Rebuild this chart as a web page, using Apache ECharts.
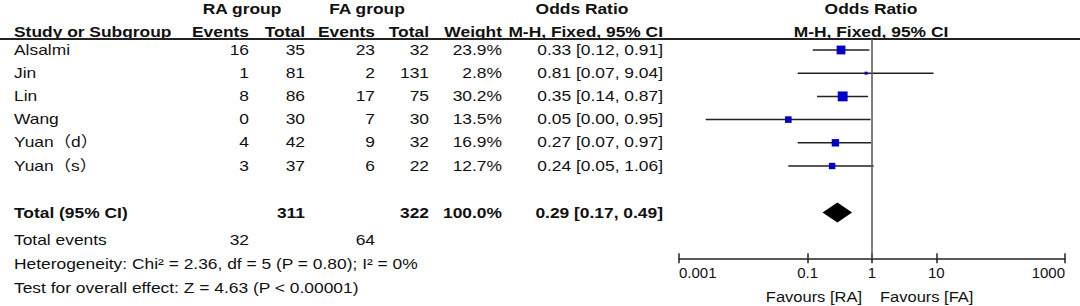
<!DOCTYPE html>
<html>
<head>
<meta charset="utf-8">
<script src="https://cdn.jsdelivr.net/npm/echarts@6/dist/echarts.min.js"></script>
<style>html,body{margin:0;padding:0;background:#fff}#c{width:1080px;height:306px}</style>
</head>
<body>
<div id="c"></div>
<script>
// ---- data ----
const studies = ['Alsalmi', 'Jin', 'Lin', 'Wang', 'Yuan（d）', 'Yuan（s）'];
const raEvents = [16, 1, 8, 0, 4, 3];
const raTotal = [35, 81, 86, 30, 42, 37];
const faEvents = [23, 2, 17, 7, 9, 6];
const faTotal = [32, 131, 75, 30, 32, 22];
const weights = [23.9, 2.8, 30.2, 13.5, 16.9, 12.7];
const oddsRatio = [0.33, 0.81, 0.35, 0.05, 0.27, 0.24];
const ciLow = [0.12, 0.07, 0.14, 0.0026, 0.07, 0.05];
const ciHigh = [0.91, 9.04, 0.87, 0.95, 0.97, 1.06];
const totalRA = 311, totalFA = 322, totalWeight = '100.0%';
const totalOR = 0.29, totalLow = 0.17, totalHigh = 0.49;
const totalEventsRA = 32, totalEventsFA = 64;
const heterogeneityText = 'Heterogeneity: Chi² = 2.36, df = 5 (P = 0.80); I² = 0%';
const overallText = 'Test for overall effect: Z = 4.63 (P < 0.00001)';
const xTickValues = [0.001, 0.1, 1, 10, 1000];
const xTickLabels = ['0.001', '0.1', '1', '10', '1000'];
const favoursLeft = 'Favours [RA]';
const favoursRight = 'Favours [FA]';

// ---- layout ----
const FONT = '"Liberation Sans", Arial, "Noto Sans CJK SC", sans-serif';
const SX = 1.16;
const ROW0 = 50, ROWH = 23.2;
const rowY = i => ROW0 + ROWH * i;
const TOTAL_ROW = 7;
const GTOP = 39, GBOT = 258.3;
const yMin = -(ROW0 - GTOP) / ROWH;
const yMax = yMin + (GBOT - GTOP) / ROWH;

const graphics = [];
function txt(x, y, text, align, bold, sx) {
  graphics.push({
    type: 'text', x: x, y: y, scaleX: sx || SX, silent: true,
    style: {
      text: String(text), textAlign: align, textVerticalAlign: 'middle', verticalAlign: 'middle',
      font: (bold ? 'bold ' : '') + '15px ' + FONT, fill: '#111'
    }
  });
}
const fmt = v => v.toFixed(2);
const ciText = (o, l, h) => fmt(o) + ' [' + fmt(l) + ', ' + fmt(h) + ']';

// headers
txt(242, 8, 'RA group', 'center', true);
txt(367, 8, 'FA group', 'center', true);
txt(582, 8, 'Odds Ratio', 'center', true);
txt(871, 8, 'Odds Ratio', 'center', true);
const HY = 31.5;
txt(14, HY, 'Study or Subgroup', 'left', true);
txt(249, HY, 'Events', 'right', true);
txt(305, HY, 'Total', 'right', true);
txt(375, HY, 'Events', 'right', true);
txt(429, HY, 'Total', 'right', true);
txt(502, HY, 'Weight', 'right', true);
txt(663, HY, 'M-H, Fixed, 95% CI', 'right', true);
txt(871, HY, 'M-H, Fixed, 95% CI', 'center', true);

graphics.push({type: 'line', silent: true, shape: {x1: 0, y1: GTOP, x2: 1080, y2: GTOP},
  style: {stroke: '#222', lineWidth: 2}});

studies.forEach((s, i) => {
  const y = rowY(i) - 1;
  txt(14, y, s, 'left', false);
  txt(249, y, raEvents[i], 'right', false);
  txt(305, y, raTotal[i], 'right', false);
  txt(375, y, faEvents[i], 'right', false);
  txt(429, y, faTotal[i], 'right', false);
  txt(502, y, weights[i].toFixed(1) + '%', 'right', false);
  txt(663, y, ciText(oddsRatio[i], ciLow[i], ciHigh[i]), 'right', false);
});
const ty = rowY(TOTAL_ROW);
txt(14, ty, 'Total (95% CI)', 'left', true);
txt(305, ty, totalRA, 'right', true);
txt(429, ty, totalFA, 'right', true);
txt(502, ty, totalWeight, 'right', true);
txt(663, ty, ciText(totalOR, totalLow, totalHigh), 'right', true);
txt(14, 239.5, 'Total events', 'left', false);
txt(249, 239.5, totalEventsRA, 'right', false);
txt(375, 239.5, totalEventsFA, 'right', false);
txt(14, 263, heterogeneityText, 'left', false);
txt(14, 287, overallText, 'left', false);
txt(862, 296.5, favoursLeft, 'right', false, 1.1);
txt(880, 296.5, favoursRight, 'left', false, 1.1);

const studyData = studies.map((s, i) => [oddsRatio[i], i, ciLow[i], ciHigh[i], weights[i]]);
const totalData = [[totalOR, TOTAL_ROW, totalLow, totalHigh]];

function labelFor(v) {
  let best = 0;
  xTickValues.forEach((t, k) => { if (Math.abs(Math.log10(v) - Math.log10(t)) < Math.abs(Math.log10(v) - Math.log10(xTickValues[best]))) best = k; });
  return xTickLabels[best];
}

const chart = echarts.init(document.getElementById('c'), null, {renderer: 'svg'});
chart.setOption({
  animation: false,
  backgroundColor: '#fff',
  grid: {left: 679, right: 15, top: GTOP, bottom: 306 - GBOT, containLabel: false},
  xAxis: [{
    type: 'log', logBase: 10, min: 0.001, max: 1000, position: 'bottom',
    axisLine: {show: true, onZero: false, lineStyle: {color: '#222', width: 1.5}},
    axisTick: {show: true, inside: false, length: 5, customValues: xTickValues, lineStyle: {color: '#222', width: 1.5}},
    axisLabel: {show: true, customValues: xTickValues, margin: 7, color: '#111', fontSize: 15, fontFamily: FONT,
      alignMinLabel: 'left', alignMaxLabel: 'right', formatter: v => labelFor(v)},
    splitLine: {show: false}, minorTick: {show: false}
  }, {
    type: 'log', logBase: 10, min: 0.001, max: 1000, position: 'bottom',
    axisLine: {show: false, onZero: false},
    axisTick: {show: true, inside: true, length: 5, customValues: xTickValues, lineStyle: {color: '#222', width: 1.5}},
    axisLabel: {show: false}, splitLine: {show: false}
  }],
  yAxis: {type: 'value', min: yMin, max: yMax, inverse: true, show: false, splitLine: {show: false}},
  graphic: graphics,
  series: [{
    type: 'custom', xAxisIndex: 0, silent: true,
    data: studyData,
    encode: {x: [0, 2, 3], y: 1},
    renderItem: (params, api) => {
      const y = api.value(1);
      const pl = api.coord([api.value(2), y]);
      const ph = api.coord([api.value(3), y]);
      const po = api.coord([api.value(0), y]);
      const sz = 1.8 * Math.sqrt(api.value(4));
      return {type: 'group', children: [
        {type: 'line', shape: {x1: pl[0], y1: pl[1], x2: ph[0], y2: ph[1]}, style: {stroke: '#222', lineWidth: 1.5}},
        {type: 'rect', shape: {x: po[0] - sz / 2, y: po[1] - sz / 2, width: sz, height: sz}, style: {fill: '#0000c8'}}
      ]};
    },
    markLine: {silent: true, symbol: 'none', label: {show: false},
      lineStyle: {color: '#555', width: 1.5, type: 'solid'}, data: [{xAxis: 1}]}
  }, {
    type: 'custom', xAxisIndex: 0, silent: true,
    data: totalData,
    encode: {x: [0, 2, 3], y: 1},
    renderItem: (params, api) => {
      const y = api.value(1);
      const pl = api.coord([api.value(2), y]);
      const ph = api.coord([api.value(3), y]);
      const po = api.coord([api.value(0), y]);
      const h = 10;
      return {type: 'polygon', shape: {points: [[pl[0], pl[1]], [po[0], po[1] - h], [ph[0], ph[1]], [po[0], po[1] + h]]},
        style: {fill: '#000'}};
    }
  }]
});
</script>
</body>
</html>
